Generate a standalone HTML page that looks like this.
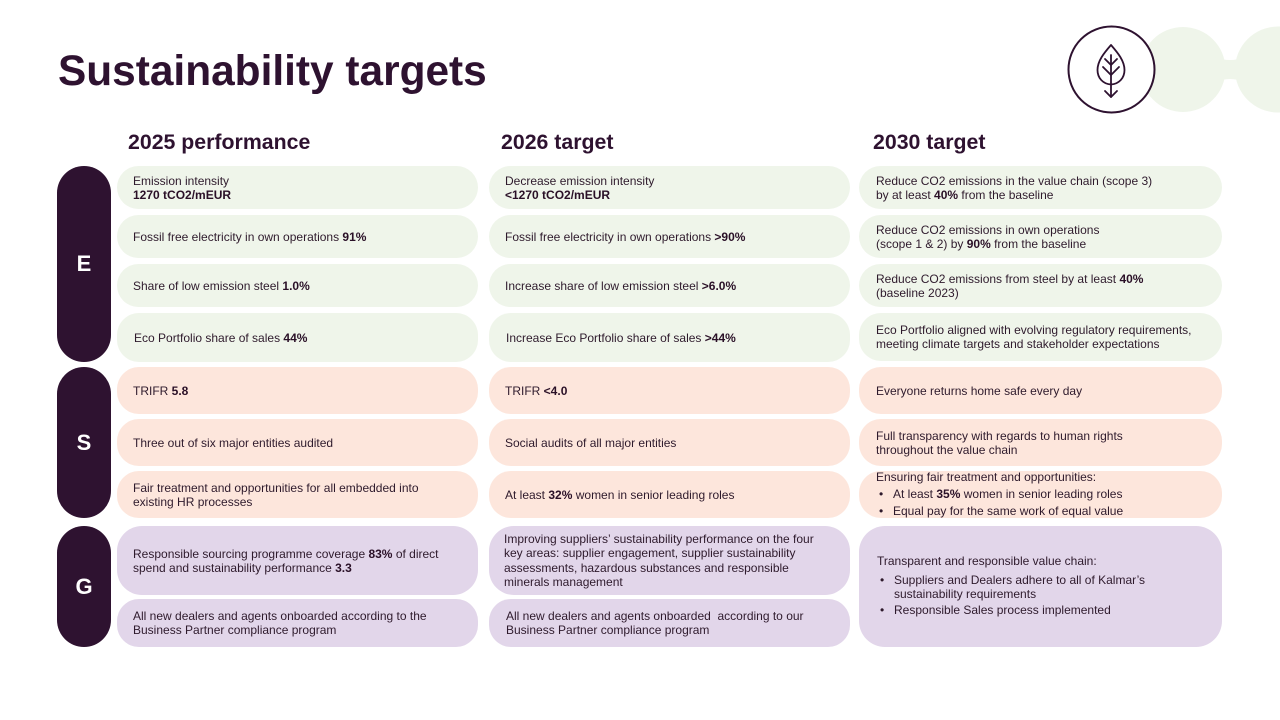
<!DOCTYPE html>
<html><head><meta charset="utf-8"><style>
*{margin:0;padding:0;box-sizing:border-box}
body{width:1280px;height:720px;background:#fff;position:relative;overflow:hidden;font-family:"Liberation Sans",Arial,sans-serif;color:#2e1a2c}
.t{position:absolute;left:58px;top:49px;font-size:42.4px;line-height:44px;font-weight:bold;color:#2e1230;white-space:nowrap}
.h{position:absolute;top:132px;font-size:21.3px;line-height:21px;font-weight:bold;color:#2e1230;white-space:nowrap}
.p{position:absolute;left:57px;width:54px;background:#2e1230;border-radius:27px;color:#fff;font-weight:bold;font-size:22px;display:flex;align-items:center;justify-content:center}
.b{position:absolute;border-radius:22px;display:flex;align-items:center;padding-left:16px;font-size:12px;line-height:14px;white-space:nowrap}
.g{background:#eff5ea}.o{background:#fde6dc}.v{background:#e2d6ea}
.c1{left:117px;width:361px}.c2{left:489px;width:361px}.c3{left:859px;width:363px;padding-left:17px}
b{font-weight:bold;color:#2a1027}
.bl{position:relative;padding-left:17px}
.bl:before{content:"•";position:absolute;left:3px;top:0}
</style></head><body>
<div class="t">Sustainability targets</div>
<svg style="position:absolute;left:0;top:0" width="1280" height="140">
<circle cx="1183" cy="69.5" r="42.5" fill="#eff5ea"/>
<circle cx="1278" cy="69.5" r="43" fill="#eff5ea"/>
<path d="M1215,57 Q1230,63 1245,57 L1245,82 Q1230,76 1215,82 Z" fill="#eff5ea"/>
<circle cx="1111.5" cy="69.5" r="43" fill="#fff" stroke="#2e1230" stroke-width="2"/>
<g fill="none" stroke="#2e1230" stroke-width="1.8" stroke-linecap="round" stroke-linejoin="round">
<path d="M1111,45 C1104,53 1097.5,61 1097.5,70 C1097.5,78 1103,84 1111,84.5 C1119,84 1124.5,78 1124.5,70 C1124.5,61 1118,53 1111,45 Z"/>
<path d="M1111,55 L1111,97"/>
<path d="M1105,91 L1111,97 L1117,91"/>
<path d="M1105,59 L1111,65 L1117,59"/>
<path d="M1103,67 L1111,75 L1119,67"/>
</g>
</svg>
<div class="h" style="left:128px">2025 performance</div>
<div class="h" style="left:501px">2026 target</div>
<div class="h" style="left:873px">2030 target</div>

<div class="p" style="top:166px;height:196px">E</div>
<div class="p" style="top:367px;height:151px">S</div>
<div class="p" style="top:526px;height:121px">G</div>

<!-- Column 1 -->
<div class="b g c1" style="top:166px;height:43px"><div>Emission intensity<br><b>1270 tCO2/mEUR</b></div></div>
<div class="b g c1" style="top:215px;height:43px"><div>Fossil free electricity in own operations <b>91%</b></div></div>
<div class="b g c1" style="top:264px;height:43px"><div>Share of low emission steel <b>1.0%</b></div></div>
<div class="b g c1" style="top:313px;height:49px;padding-left:17px"><div>Eco Portfolio share of sales <b>44%</b></div></div>
<div class="b o c1" style="top:367px;height:47px"><div>TRIFR <b>5.8</b></div></div>
<div class="b o c1" style="top:419px;height:47px"><div>Three out of six major entities audited</div></div>
<div class="b o c1" style="top:471px;height:47px"><div>Fair treatment and opportunities for all embedded into<br>existing HR processes</div></div>
<div class="b v c1" style="top:526px;height:69px;border-radius:25px"><div>Responsible sourcing programme coverage <b>83%</b> of direct<br>spend and sustainability performance <b>3.3</b></div></div>
<div class="b v c1" style="top:599px;height:48px"><div>All new dealers and agents onboarded according to the<br>Business Partner compliance program</div></div>

<!-- Column 2 -->
<div class="b g c2" style="top:166px;height:43px"><div>Decrease emission intensity<br><b>&lt;1270 tCO2/mEUR</b></div></div>
<div class="b g c2" style="top:215px;height:43px"><div>Fossil free electricity in own operations <b>&gt;90%</b></div></div>
<div class="b g c2" style="top:264px;height:43px"><div>Increase share of low emission steel <b>&gt;6.0%</b></div></div>
<div class="b g c2" style="top:313px;height:49px;padding-left:17px"><div>Increase Eco Portfolio share of sales <b>&gt;44%</b></div></div>
<div class="b o c2" style="top:367px;height:47px"><div>TRIFR <b>&lt;4.0</b></div></div>
<div class="b o c2" style="top:419px;height:47px"><div>Social audits of all major entities</div></div>
<div class="b o c2" style="top:471px;height:47px"><div>At least <b>32%</b> women in senior leading roles</div></div>
<div class="b v c2" style="top:526px;height:69px;border-radius:25px;line-height:14.2px;padding-left:15px"><div>Improving suppliers’ sustainability performance on the four<br>key areas: supplier engagement, supplier sustainability<br>assessments, hazardous substances and responsible<br>minerals management</div></div>
<div class="b v c2" style="top:599px;height:48px;padding-left:17px"><div>All new dealers and agents onboarded&nbsp; according to our<br>Business Partner compliance program</div></div>

<!-- Column 3 -->
<div class="b g c3" style="top:166px;height:43px"><div>Reduce CO2 emissions in the value chain (scope 3)<br>by at least <b>40%</b> from the baseline</div></div>
<div class="b g c3" style="top:215px;height:43px"><div>Reduce CO2 emissions in own operations<br>(scope 1 &amp; 2) by <b>90%</b> from the baseline</div></div>
<div class="b g c3" style="top:264px;height:43px"><div>Reduce CO2 emissions from steel by at least <b>40%</b><br>(baseline 2023)</div></div>
<div class="b g c3" style="top:313px;height:48px"><div>Eco Portfolio aligned with evolving regulatory requirements,<br>meeting climate targets and stakeholder expectations</div></div>
<div class="b o c3" style="top:367px;height:47px"><div>Everyone returns home safe every day</div></div>
<div class="b o c3" style="top:419px;height:47px"><div>Full transparency with regards to human rights<br>throughout the value chain</div></div>
<div class="b o c3" style="top:471px;height:47px;line-height:17px"><div>Ensuring fair treatment and opportunities:<div class="bl">At least <b>35%</b> women in senior leading roles</div><div class="bl">Equal pay for the same work of equal value</div></div></div>
<div class="b v c3" style="top:526px;height:121px;border-radius:26px;align-items:flex-start;padding-top:28px;padding-left:18px"><div>Transparent and responsible value chain:<div class="bl" style="margin-top:5px">Suppliers and Dealers adhere to all of Kalmar’s<br>sustainability requirements</div><div class="bl" style="margin-top:2px">Responsible Sales process implemented</div></div></div>
</body></html>
